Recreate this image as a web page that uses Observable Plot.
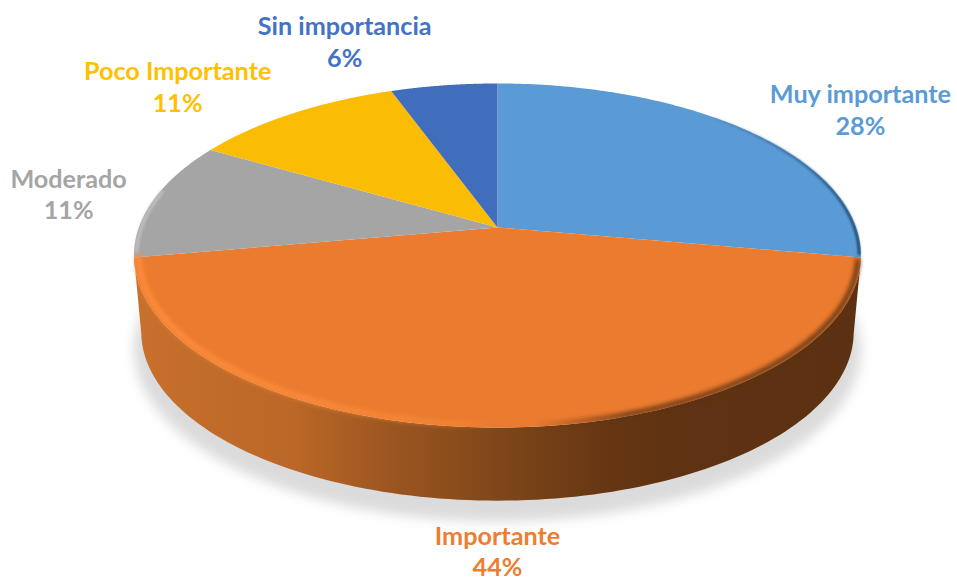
<!DOCTYPE html>
<html>
<head>
<meta charset="utf-8">
<script src="https://cdn.jsdelivr.net/npm/d3@7"></script>
<script src="https://cdn.jsdelivr.net/npm/@observablehq/plot@0.6"></script>
<style>html,body{margin:0;padding:0;background:#fff}svg{display:block}</style>
</head>
<body>
<div id="chart"></div>
<script>
// Data: the percentages are counts out of 18 responses
const categories = ["Muy importante", "Importante", "Moderado", "Poco Importante", "Sin importancia"];
const counts = [5, 8, 2, 2, 1];
const faceColors = ["#5b9bd5", "#ea7b2f", "#a5a5a5", "#fbbc04", "#416dbd"];
const labelColors = ["#5b9bd5", "#ed7d31", "#a5a5a5", "#ffc000", "#4472c4"];
// Label centres in the chart's model units
const labelX = [1.012, 0, -1.196, -0.892, -0.426];
const labelY = [-0.708, 1.928, -0.202, -0.846, -1.113];

// Tilted-disc model
const tilt = 0.163;
const aspect = 1;
const depthShift = 0.46;
const depthScale = 0.98;
const total = d3.sum(counts);
let acc = 0;
const slices = categories.map((name, i) => {
  const a0 = acc / total * 2 * Math.PI;
  acc += counts[i];
  return {name, i, a0, a1: acc / total * 2 * Math.PI, pct: Math.round(counts[i] / total * 100)};
});
function project(a, r = 1, scale = 1, shift = 0) {
  const u = Math.sin(a) * r, v = -Math.cos(a) * r, w = 1 - tilt * v;
  return {x: scale * u / w, y: scale * aspect * v / w + shift};
}
function arc(a0, a1, r = 1, scale = 1, shift = 0) {
  return d3.range(0, 121).map((k) => project(a0 + (a1 - a0) * k / 120, r, scale, shift));
}
const facePolys = slices.flatMap((s) =>
  [{x: 0, y: 0}, ...arc(s.a0, s.a1), {x: 0, y: 0}].map((p) => ({...p, name: s.name}))
);
const front = slices[1];
const wall = [...arc(front.a0, front.a1), ...arc(front.a1, front.a0, 1, depthScale, depthShift)];
const shadow = [...arc(front.a0 - 0.35, front.a1 + 0.35, 1.0, 1.0, 0.56), ...arc(front.a1 + 0.35, front.a0 - 0.35, 1, 0.97, 0.1)];
const frontRim = arc(front.a0 + 0.01, front.a1, 0.988);
const frontEdge = arc(front.a0 + 0.02, front.a1 - 0.02, 0.992);
const blueRim = arc(slices[0].a0 + 0.75, slices[0].a1 - 0.02, 0.995);
const greyRim = arc(slices[2].a0 + 0.03, slices[2].a1 - 0.3, 0.993);

function defs() {
  const stops = (rows) => rows.map(([o, c, a = 1]) => `<stop offset="${o}" stop-color="${c}" stop-opacity="${a}"/>`).join("");
  const g = document.createElementNS("http://www.w3.org/2000/svg", "defs");
  g.innerHTML =
    `<linearGradient id="wallG">${stops([[0,"#c8702c"],[0.22,"#bb6727"],[0.36,"#9a5520"],[0.5,"#7f4719"],[0.64,"#683713"],[0.75,"#5e3212"],[1,"#5c3112"]])}</linearGradient>` +
    `<linearGradient id="rimG">${stops([[0,"#ff8f3c",0.95],[0.25,"#ff8f3c",0.8],[0.42,"#ff8f3c",0.5],[0.5,"#ff8f3c",0]])}</linearGradient>` +
    `<linearGradient id="edgeG">${stops([[0,"#5e3212",0],[0.55,"#5e3212",0],[0.68,"#5e3212",0.85],[1,"#5e3212",0.9]])}</linearGradient>` +
    `<linearGradient id="blueG">${stops([[0,"#1f4e79",0.1],[0.6,"#1f4e79",0.6],[1,"#153a5c",0.95]])}</linearGradient>`;
  return g;
}

const chart = Plot.plot({
  width: 957,
  height: 581,
  margin: 0,
  x: {domain: [-1, 1], range: [138.4, 855.6], axis: null},
  y: {domain: [-1, 1], range: [59.5, 394.5], axis: null},
  color: {domain: categories, range: faceColors},
  marks: [
    defs,
    Plot.line(shadow, {x: "x", y: "y", fill: "#000", fillOpacity: 0.14, stroke: "none", curve: "linear-closed", imageFilter: "blur(6px)"}),
    Plot.line(wall, {x: "x", y: "y", fill: "url(#wallG)", stroke: "none", curve: "linear-closed"}),
    Plot.line(facePolys, {x: "x", y: "y", z: "name", fill: "name", stroke: "none", curve: "linear-closed"}),
    Plot.line(blueRim, {x: "x", y: "y", stroke: "url(#blueG)", strokeWidth: 2.5, imageFilter: "blur(1px)"}),
    Plot.line(greyRim, {x: "x", y: "y", stroke: "#c4c4c4", strokeWidth: 3, imageFilter: "blur(1.5px)"}),
    Plot.line(frontRim, {x: "x", y: "y", stroke: "url(#rimG)", strokeWidth: 6, imageFilter: "blur(2.5px)"}),
    Plot.line(frontEdge, {x: "x", y: "y", stroke: "url(#edgeG)", strokeWidth: 5, imageFilter: "blur(2px)"}),
    Plot.text(slices, {
      x: (d) => labelX[d.i],
      y: (d) => labelY[d.i],
      text: (d) => `${d.name}\n${d.pct}%`,
      fill: (d) => labelColors[d.i],
      fontFamily: "Lato",
      fontWeight: 700,
      fontSize: 25.2,
      lineHeight: 1.25,
      lineAnchor: "middle",
      textAnchor: "middle"
    })
  ]
});
document.getElementById("chart").append(chart);
</script>
</body>
</html>
